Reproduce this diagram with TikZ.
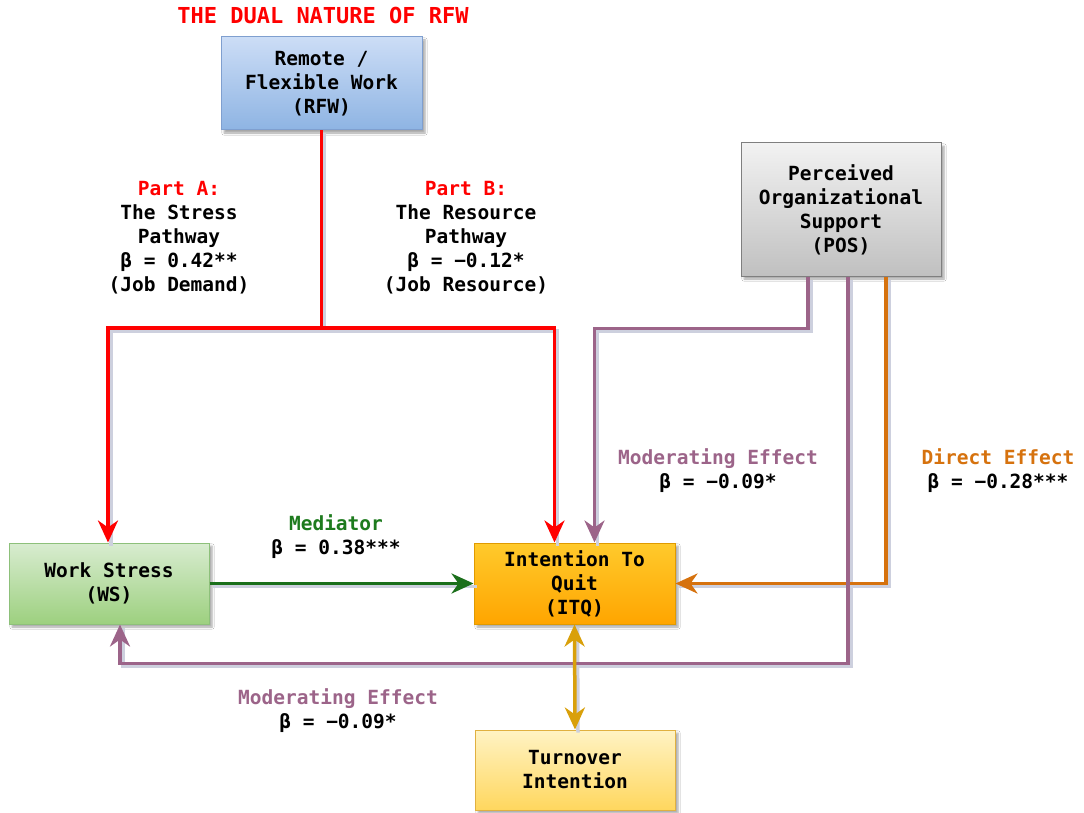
\documentclass[tikz,border=0pt]{standalone}
\usepackage{fontspec}
\setmainfont{DejaVu Sans Mono}
\usetikzlibrary{arrows.meta,shadows.blur}
\definecolor{cred}{HTML}{FF0000}
\definecolor{cgreen}{HTML}{1E7B1E}
\definecolor{cpurple}{HTML}{9C6489}
\definecolor{corange}{HTML}{D6720E}
\definecolor{cgold}{HTML}{D9A00A}
\definecolor{cshadow}{HTML}{CDD0DE}
\definecolor{rfwtop}{HTML}{CCDDF6}
\definecolor{rfwbot}{HTML}{8EB4E3}
\definecolor{rfwbd}{HTML}{7F9FCF}
\definecolor{postop}{HTML}{F2F2F2}
\definecolor{posbot}{HTML}{C0C0C0}
\definecolor{posbd}{HTML}{7F7F7F}
\definecolor{wstop}{HTML}{D8ECD0}
\definecolor{wsbot}{HTML}{9DD07F}
\definecolor{wsbd}{HTML}{8DC07A}
\definecolor{itqtop}{HTML}{FFCA2C}
\definecolor{itqbot}{HTML}{FFA500}
\definecolor{itqbd}{HTML}{E09A00}
\definecolor{tutop}{HTML}{FFF3C4}
\definecolor{tubot}{HTML}{FFD75E}
\definecolor{tubd}{HTML}{E0B040}
\begin{document}
\begin{tikzpicture}[x=1pt,y=-1pt,
  every node/.style={font=\fontsize{19.5}{24}\selectfont\bfseries, align=center},
  box/.style={rectangle, draw, line width=1pt, inner sep=0pt,
    blur shadow={shadow xshift=3pt, shadow yshift=-3pt, shadow blur steps=5, shadow opacity=35}},
  conn/.style={line width=3.5pt},
  arrw/.style={-{Stealth[length=22pt,width=20pt,inset=7pt]}},
  darrw/.style={{Stealth[length=22pt,width=20pt,inset=7pt]}-{Stealth[length=22pt,width=20pt,inset=7pt]}},
]
\useasboundingbox[fill=white] (0,0) rectangle (1084,813);

% nodes
\node[box, draw=rfwbd, top color=rfwtop, bottom color=rfwbot,
  minimum width=201pt, minimum height=93pt] (rfw) at (321.5,83.5) {Remote /\\Flexible Work\\(RFW)};
\node[box, draw=posbd, top color=postop, bottom color=posbot,
  minimum width=200pt, minimum height=133pt] (pos) at (841,209.5) {Perceived\\Organizational\\Support\\(POS)};
\node[box, draw=wsbd, top color=wstop, bottom color=wsbot,
  minimum width=200pt, minimum height=81pt] (ws) at (109,583.5) {Work Stress\\(WS)};
\node[box, draw=itqbd, top color=itqtop, bottom color=itqbot,
  minimum width=201pt, minimum height=81pt] (itq) at (574.5,583.5) {Intention To\\Quit\\(ITQ)};
\node[box, draw=tubd, top color=tutop, bottom color=tubot,
  minimum width=200pt, minimum height=80pt] (turn) at (575,770) {Turnover\\Intention};

% title
\node[text=cred, font=\fontsize{22}{26}\selectfont\bfseries] (title) at (323,15) {THE DUAL NATURE OF RFW};

% connector shadows
\coordinate (rsplit) at (rfw.south |- 0,328);
\begin{scope}[transform canvas={shift={(3pt,-3pt)}}, cshadow, line width=3.5pt]
\draw (rfw.south) -- (rsplit) -| ([xshift=-1]ws.north);
\draw (rsplit) -| ([xshift=-20]itq.north);
\draw (ws.east) -- (itq.west);
\draw ([xshift=45]pos.south) |- (itq.east);
\draw ([xshift=-33]pos.south) -- ++(0,52) -| ([xshift=20]itq.north);
\draw ([xshift=7]pos.south) -- ++(0,387) -| ([xshift=11]ws.south);
\draw (itq.south) -- (turn.north);
\end{scope}

% connectors
\draw[conn, cred, arrw] (rfw.south) -- (rsplit) -| ([xshift=-1]ws.north);
\draw[conn, cred, arrw] (rsplit) -| ([xshift=-20]itq.north);
\draw[conn, cgreen!90!black, arrw] (ws.east) -- (itq.west);
\draw[conn, corange, arrw] ([xshift=45]pos.south) |- (itq.east);
\draw[conn, cpurple, arrw] ([xshift=-33]pos.south) -- ++(0,52) -| ([xshift=20]itq.north);
\draw[conn, cpurple, arrw] ([xshift=7]pos.south) -- ++(0,387) -| ([xshift=11]ws.south);
\draw[conn, cgold, darrw] (itq.south) -- (turn.north);

% labels
\node[anchor=north] (la) at (179,178) {\textcolor{cred}{Part A:}\\The Stress\\Pathway\\β = 0.42**\\(Job Demand)};
\node[anchor=north] (lb) at (466,178) {\textcolor{cred}{Part B:}\\The Resource\\Pathway\\β = −0.12*\\(Job Resource)};
\node (lm) at (336,537) {\textcolor{cgreen}{Mediator}\\β = 0.38***};
\node (lmod1) at (718,471) {\textcolor{cpurple}{Moderating Effect}\\β = −0.09*};
\node (ldir) at (998,471) {\textcolor{corange}{Direct Effect}\\β = −0.28***};
\node (lmod2) at (338,711) {\textcolor{cpurple}{Moderating Effect}\\β = −0.09*};
\end{tikzpicture}
\end{document}
